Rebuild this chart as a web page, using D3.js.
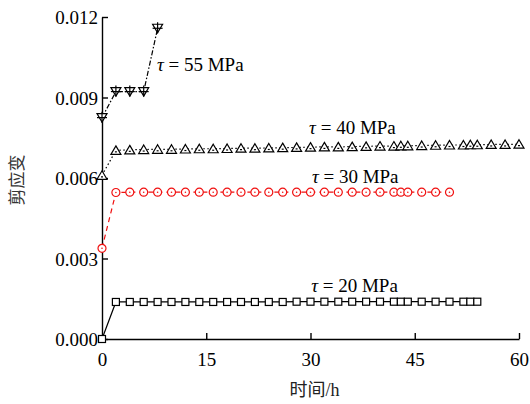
<!DOCTYPE html>
<html>
<head>
<meta charset="utf-8">
<script src="https://cdn.jsdelivr.net/npm/d3@7"></script>
<style>
  body { margin: 0; background: #fff; }
  svg { display: block; }
  .axis path, .axis line { stroke: #000; stroke-width: 1.4; }
  .axis text { font-family: "Liberation Serif", "Times New Roman", serif; font-size: 19px; fill: #000; }
</style>
</head>
<body>
<div id="chart"></div>
<script>
"use strict";

// time (h) and shear strain for each stress level
var time20 = [0, 2, 4, 6, 8, 10, 12, 14, 16, 18, 20, 22, 24, 26, 28, 30, 32, 34, 36, 38, 40, 42, 43, 44, 46, 48, 50, 52, 53, 54];
var strain20 = [0, 0.00138, 0.00138, 0.00138, 0.00138, 0.00138, 0.00138, 0.00138, 0.00138, 0.00138, 0.00138, 0.00138, 0.00138, 0.00138, 0.00139, 0.00139, 0.00139, 0.00139, 0.00139, 0.00139, 0.00139, 0.00139, 0.00139, 0.00139, 0.00139, 0.00139, 0.00139, 0.00139, 0.00139, 0.00139];

var time30 = [0, 2, 4, 6, 8, 10, 12, 14, 16, 18, 20, 22, 24, 26, 28, 30, 32, 34, 36, 38, 40, 42, 43, 44, 46, 48, 50];
var strain30 = [0.00338, 0.00546, 0.00547, 0.00547, 0.00547, 0.00547, 0.00547, 0.00547, 0.00547, 0.00547, 0.00547, 0.00547, 0.00547, 0.00547, 0.00547, 0.00547, 0.00547, 0.00547, 0.00547, 0.00547, 0.00547, 0.00547, 0.00547, 0.00547, 0.00547, 0.00547, 0.00547];

var time40 = [0, 2, 4, 6, 8, 10, 12, 14, 16, 18, 20, 22, 24, 26, 28, 30, 32, 34, 36, 38, 40, 42, 43, 44, 46, 48, 50, 52, 53, 54, 56, 58, 60];
var strain40 = [0.00610, 0.00703, 0.00705, 0.00706, 0.00707, 0.00707, 0.00708, 0.00709, 0.00709, 0.00710, 0.00711, 0.00711, 0.00712, 0.00713, 0.00714, 0.00715, 0.00716, 0.00716, 0.00717, 0.00718, 0.00719, 0.00719, 0.00720, 0.00720, 0.00721, 0.00722, 0.00723, 0.00723, 0.00724, 0.00724, 0.00725, 0.00725, 0.00726];

var time55 = [0, 2, 4, 6, 8];
var strain55 = [0.00825, 0.00922, 0.00922, 0.00922, 0.01158];

var xTicks = [0, 15, 30, 45, 60];
var yTicks = [0, 0.003, 0.006, 0.009, 0.012];

var seriesLabels = ["20 MPa", "30 MPa", "40 MPa", "55 MPa"];

(function () {
  var width = 530, height = 404;
  var margin = { top: 17, right: 11, bottom: 65, left: 102 };

  var svg = d3.select("#chart").append("svg")
    .attr("width", width)
    .attr("height", height);

  var x = d3.scaleLinear().domain([0, 60]).range([margin.left, width - margin.right]);
  var y = d3.scaleLinear().domain([0, 0.012]).range([height - margin.bottom, margin.top]);

  // axes, ticks drawn inward
  svg.append("g")
    .attr("class", "axis")
    .attr("transform", "translate(0," + y(0) + ")")
    .call(d3.axisBottom(x).tickValues(xTicks).tickSizeInner(-6).tickSizeOuter(0).tickPadding(14))
    .call(function (g) { g.selectAll(".tick").filter(function (d) { return d === 0; }).select("line").remove(); });

  svg.append("g")
    .attr("class", "axis")
    .attr("transform", "translate(" + x(0) + ",0)")
    .call(d3.axisLeft(y).tickValues(yTicks).tickSizeInner(-6).tickSizeOuter(0).tickPadding(4).tickFormat(d3.format(".3f")))
    .call(function (g) { g.selectAll(".tick text").attr("dy", "0.36em"); });

  function zip(ts, vs) {
    return ts.map(function (t, i) { return { t: t, v: vs[i] }; });
  }

  var line = d3.line()
    .x(function (d) { return x(d.t); })
    .y(function (d) { return y(d.v); });

  var series = [
    { data: zip(time20, strain20), color: "#000", dash: null, marker: "square", label: seriesLabels[0] },
    { data: zip(time30, strain30), color: "#f01010", dash: "5,4", marker: "circle", label: seriesLabels[1] },
    { data: zip(time40, strain40), color: "#000", dash: "1.5,2.5", marker: "triangle", label: seriesLabels[2] },
    { data: zip(time55, strain55), color: "#000", dash: "5,2,1.5,2", marker: "down", label: seriesLabels[3] }
  ];

  series.forEach(function (s) {
    svg.append("path")
      .datum(s.data)
      .attr("d", line)
      .attr("fill", "none")
      .attr("stroke", s.color)
      .attr("stroke-width", 1.2)
      .attr("stroke-dasharray", s.dash);

    var g = svg.append("g").selectAll("g")
      .data(s.data)
      .enter().append("g")
      .attr("transform", function (d) { return "translate(" + x(d.t) + "," + y(d.v) + ")"; })
      .attr("fill", "#fff")
      .attr("stroke", s.color)
      .attr("stroke-width", 1.2);

    if (s.marker === "square") {
      g.append("rect").attr("x", -3.5).attr("y", -3.5).attr("width", 7).attr("height", 7);
    } else if (s.marker === "circle") {
      g.append("circle").attr("r", 4);
      g.append("circle").attr("r", 0.8).attr("fill", s.color).attr("stroke", "none");
    } else if (s.marker === "triangle") {
      g.append("path").attr("d", "M0,-4.5L5,4L-5,4Z");
      g.append("line").attr("x1", -1).attr("x2", 1).attr("y1", 1.5).attr("y2", 1.5);
    } else {
      g.append("path").attr("d", "M0,4.5L5,-4L-5,-4Z");
      g.append("line").attr("x1", -5).attr("x2", 5).attr("y1", 0).attr("y2", 0);
      g.append("line").attr("x1", 0).attr("x2", 0).attr("y1", -6).attr("y2", 5);
    }
  });

  // series labels
  var labelPos = [
    { t: 30.1, v: 0.00175 },
    { t: 30.2, v: 0.00582 },
    { t: 29.8, v: 0.00764 },
    { t: 7.9, v: 0.01000 }
  ];

  labelPos.forEach(function (p, i) {
    var txt = svg.append("text")
      .attr("x", x(p.t))
      .attr("y", y(p.v))
      .attr("font-family", "'Liberation Serif', 'Times New Roman', serif")
      .attr("font-size", 19)
      .attr("fill", "#000");
    txt.append("tspan").attr("font-style", "italic").text("τ");
    txt.append("tspan").text(" = " + seriesLabels[i]);
  });

  // axis titles
  svg.append("text")
    .attr("x", (x(0) + x(60)) / 2 + 4)
    .attr("y", 396)
    .attr("text-anchor", "middle")
    .attr("font-family", "'Liberation Serif', 'Noto Sans CJK SC', serif")
    .attr("font-size", 18)
    .attr("fill", "#222")
    .text("时间/h");

  svg.append("text")
    .attr("transform", "translate(15,180) rotate(-90)")
    .attr("text-anchor", "middle")
    .attr("dominant-baseline", "central")
    .attr("font-family", "'Noto Sans CJK SC', sans-serif")
    .attr("font-size", 17)
    .attr("fill", "#333")
    .text("剪应变");
})();
</script>
</body>
</html>
